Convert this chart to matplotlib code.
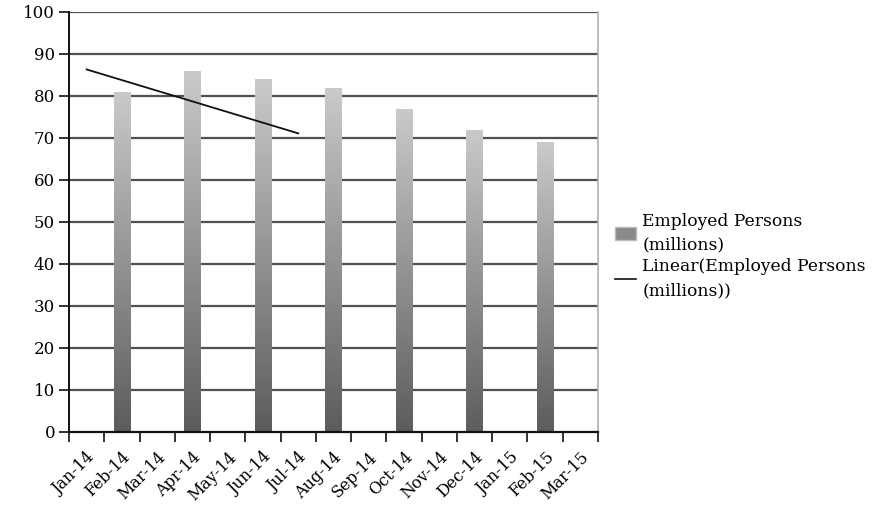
import numpy as np
import matplotlib
matplotlib.use("Agg")
import matplotlib.pyplot as plt
from matplotlib.patches import Rectangle
from matplotlib.lines import Line2D
from matplotlib.colors import LinearSegmentedColormap

months = ["Jan-14", "Feb-14", "Mar-14", "Apr-14", "May-14", "Jun-14", "Jul-14",
          "Aug-14", "Sep-14", "Oct-14", "Nov-14", "Dec-14", "Jan-15", "Feb-15", "Mar-15"]
bar_months = ["Feb-14", "Apr-14", "Jun-14", "Aug-14", "Oct-14", "Dec-14", "Feb-15"]
employed = [81, 86, 84, 82, 77, 72, 69]
series_name = "Employed Persons\n(millions)"
trend_name = "Linear(Employed Persons\n(millions))"

plt.rcParams["font.family"] = ["DejaVu Serif"]

fig = plt.figure(figsize=(8.94, 5.12), dpi=100)
ax = fig.add_axes([69 / 894, 80 / 512, 529 / 894, 420 / 512])

x_pos = np.arange(len(months))
bar_x = [months.index(m) for m in bar_months]
bar_w = 0.46

ax.set_xlim(-0.5, len(months) - 0.5)
ax.set_ylim(0, 100)

# horizontal gridlines
for yv in range(10, 101, 10):
    ax.axhline(yv, color="#505050", lw=1.6, zorder=1)

# gradient-filled bars (light at top, dark at base)
cmap = LinearSegmentedColormap.from_list("g", ["#5c5c5c", "#cacaca"])
grad = np.linspace(0, 1, 256).reshape(-1, 1)
for xi, v in zip(bar_x, employed):
    rect = Rectangle((xi - bar_w / 2, 0), bar_w, v, facecolor="none",
                     edgecolor="none", zorder=2)
    ax.add_patch(rect)
    im = ax.imshow(grad, cmap=cmap, origin="lower", aspect="auto",
                   extent=(xi - bar_w / 2, xi + bar_w / 2, 0, v), zorder=2)
    im.set_clip_path(rect)

# linear trend fitted over the plotted points (index 1..n), drawn on the first n categories
n = len(employed)
coef = np.polyfit(np.arange(1, n + 1), employed, 1)
trend_x = np.arange(n)
trend_y = np.polyval(coef, np.arange(1, n + 1))
ax.plot(trend_x, trend_y, color="#111111", lw=1.3, zorder=3)

# axes styling
ax.spines["top"].set_visible(False)
ax.spines["right"].set_color("#b0b0b0")
ax.spines["right"].set_linewidth(1.2)
ax.spines["left"].set_color("#111111")
ax.spines["left"].set_linewidth(1.4)
ax.spines["bottom"].set_color("#111111")
ax.spines["bottom"].set_linewidth(1.6)
ax.spines["bottom"].set_zorder(4)

ax.set_yticks(range(0, 101, 10))
ax.tick_params(axis="y", length=7, width=1.2, color="#111111", labelsize=12, pad=3)

ax.set_xticks(np.arange(-0.5, len(months), 1.0))
ax.set_xticklabels([])
ax.set_xticks(x_pos, minor=True)
ax.set_xticklabels(months, minor=True, rotation=45, ha="right", va="top",
                   rotation_mode="anchor", fontsize=11.5)
ax.tick_params(axis="x", which="major", length=7, width=1.2, color="#111111")
ax.tick_params(axis="x", which="minor", length=0, pad=12)

handles = [Rectangle((0, 0), 1, 1, facecolor="#8a8a8a", edgecolor="#bbbbbb"),
           Line2D([0], [0], color="#111111", lw=1.2)]
leg = fig.legend(handles, [series_name, trend_name], loc="center left",
                 bbox_to_anchor=(0.688, 0.50), frameon=False, fontsize=12.3,
                 handlelength=1.2, handleheight=0.8, handletextpad=0.4,
                 labelspacing=0.25, borderaxespad=0, borderpad=0)
for t in leg.get_texts():
    t.set_linespacing(1.55)

fig.savefig("out.png", dpi=100)
